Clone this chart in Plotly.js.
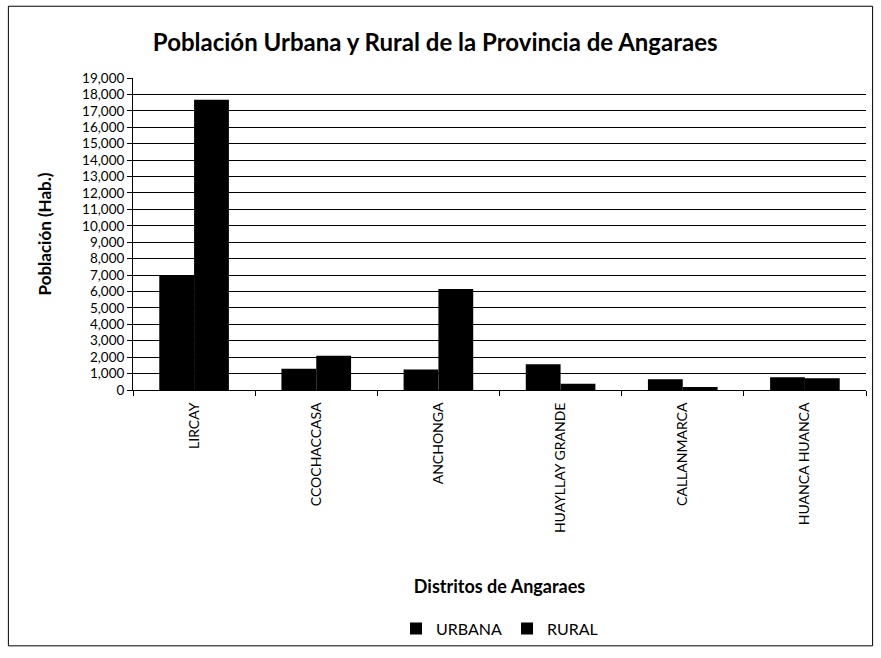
<!DOCTYPE html>
<html>
<head>
<meta charset="utf-8">
<script src="https://cdn.plot.ly/plotly-3.0.1.min.js"></script>
<style>
html,body{margin:0;padding:0;background:#fff;}
#chart{width:881px;height:658px;}
</style>
</head>
<body>
<div id="chart"></div>
<script>
var districts = ["LIRCAY", "CCOCHACCASA", "ANCHONGA", "HUAYLLAY GRANDE", "CALLANMARCA", "HUANCA HUANCA"];
var urbana = [7000, 1290, 1250, 1570, 650, 780];
var rural = [17680, 2090, 6150, 380, 180, 720];
var yTicks = [0,1000,2000,3000,4000,5000,6000,7000,8000,9000,10000,11000,12000,13000,14000,15000,16000,17000,18000,19000];
var yTickText = yTicks.map(function(v){ return v.toLocaleString('en-US'); });

var font = "Lato, 'Open Sans', sans-serif";
var traces = [
  {type:"bar", name:"URBANA", x:districts, y:urbana, marker:{color:"#000"}},
  {type:"bar", name:"RURAL", x:districts, y:rural, marker:{color:"#000"}}
];
var layout = {
  width:881, height:658,
  margin:{l:133, r:15, t:78, b:265},
  paper_bgcolor:"#fff", plot_bgcolor:"#fff",
  font:{family:font, color:"#000", size:13},
  title:{text:"<b>Población Urbana y Rural de la Provincia de Angaraes</b>", x:0.494, xanchor:"center", y:0.936, yanchor:"middle", font:{size:24, family:font, color:"#000"}},
  barmode:"group", bargap:0.43, bargroupgap:0,
  xaxis:{type:"category", automargin:false, tickangle:-90, showline:true, linecolor:"#000", linewidth:1, ticks:"outside", tickson:"boundaries", ticklen:5, tickcolor:"#000", showgrid:false, tickfont:{size:14, family:font}, ticklabelstandoff:6,
         title:{text:"<b>Distritos de Angaraes</b>", standoff:48, font:{size:18, family:font}}},
  yaxis:{range:[0,19000], automargin:false, tickvals:yTicks, ticktext:yTickText, showline:true, linecolor:"#000", linewidth:1, ticks:"outside", ticklen:5, tickcolor:"#000", showgrid:true, gridcolor:"#000", gridwidth:1, zeroline:false, tickfont:{size:13.5, family:font},
         title:{text:"<b>Población (Hab.)</b>", standoff:26, font:{size:17, family:font}}},
  legend:{orientation:"h", x:0.5, xanchor:"center", y:-0.765, yanchor:"middle", bgcolor:"rgba(0,0,0,0)", font:{size:16, family:font}, itemwidth:30, traceorder:"normal"},
  shapes:[{type:"rect", xref:"paper", yref:"paper", x0:-0.17, x1:1.009, y0:-0.82, y1:1.23, line:{color:"#000", width:1}}]
};
Plotly.newPlot("chart", traces, layout, {displayModeBar:false, staticPlot:true});
</script>
</body>
</html>
